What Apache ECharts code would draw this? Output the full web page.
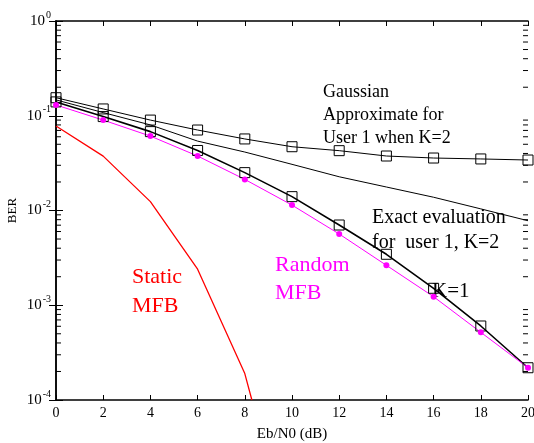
<!DOCTYPE html>
<html>
<head>
<meta charset="utf-8">
<script src="https://cdn.jsdelivr.net/npm/echarts@6/dist/echarts.min.js"></script>
<style>
  html, body { margin: 0; padding: 0; background: #fff; }
  #chart { width: 534px; height: 443px; }
</style>
</head>
<body>
<div id="chart"></div>
<script>
var ebn0 = [0, 2, 4, 6, 8, 10, 12, 14, 16, 18, 20];
var gaussian = [0.155, 0.118, 0.09, 0.0707, 0.0569, 0.0471, 0.0428, 0.0376, 0.0358, 0.035, 0.0341];
var exact = [0.147, 0.108, 0.08, 0.054, 0.0414, 0.0307, 0.0227, 0.0177, 0.0138, 0.0104, 0.0078];
var k1 = [0.14, 0.098, 0.068, 0.043, 0.0251, 0.014, 0.00703, 0.00345, 0.00151, 0.000604, 0.000219];
var randomMfb = [0.13, 0.09, 0.061, 0.0376, 0.0213, 0.0114, 0.00565, 0.00264, 0.00123, 0.000518, 0.000219];
var staticX = [0, 2, 4, 6, 8, 8.3];
var staticMfb = [0.078, 0.0375, 0.0124, 0.0024, 0.00019, 0.0001];

// minor ticks of the log axis
var minorTicks = [];
[-4, -3, -2, -1].forEach(function (d) {
    for (var m = 2; m <= 9; m++) minorTicks.push(m * Math.pow(10, d));
});

var FONT = 'Liberation Serif';

function pairs(xs, ys) {
    return xs.map(function (x, i) { return [x, ys[i]]; });
}

function drawChart() {
    var myChart = echarts.init(document.getElementById('chart'));

    var option = {
        animation: false,
        textStyle: { fontFamily: FONT },
        grid: { left: 56, right: 6, top: 21, bottom: 43, outerBoundsMode: 'none', containLabel: false },
        xAxis: [{
            type: 'value', min: 0, max: 20, interval: 2,
            name: 'Eb/N0 (dB)', nameLocation: 'middle', nameGap: 27, nameMoveOverlap: false,
            nameTextStyle: { fontFamily: FONT, fontSize: 15, color: '#000' },
            axisLine: { lineStyle: { color: '#000', width: 1.5 } },
            axisTick: { inside: true, length: 5, lineStyle: { color: '#000' } },
            axisLabel: { fontFamily: FONT, fontSize: 14, color: '#000', margin: 6 },
            splitLine: { show: false }
        }, {
            type: 'value', min: 0, max: 20, interval: 2, position: 'top',
            axisLine: { lineStyle: { color: '#000', width: 1.5 } },
            axisTick: { inside: true, length: 5, lineStyle: { color: '#000' } },
            axisLabel: { show: false },
            splitLine: { show: false }
        }],
        yAxis: [{
            type: 'log', logBase: 10, min: 0.0001, max: 1,
            name: 'BER', nameLocation: 'middle', nameGap: 37, nameMoveOverlap: false,
            nameTextStyle: { fontFamily: FONT, fontSize: 13, color: '#000' },
            axisLine: { lineStyle: { color: '#000', width: 1.5 } },
            axisTick: { inside: true, length: 7, lineStyle: { color: '#000' } },
            axisLabel: {
                margin: 5,
                formatter: function (v) {
                    return '{b|10}{s|' + Math.round(Math.log10(v)) + '}';
                },
                rich: {
                    b: { fontFamily: FONT, fontSize: 15, color: '#000' },
                    s: { fontFamily: FONT, fontSize: 10, color: '#000', padding: [0, 0, 12, 1] }
                }
            },
            splitLine: { show: false }
        }, {
            type: 'log', logBase: 10, min: 0.0001, max: 1, position: 'right',
            axisLine: { lineStyle: { color: '#000', width: 1.5 } },
            axisTick: { inside: true, length: 7, lineStyle: { color: '#000' } },
            axisLabel: { show: false },
            splitLine: { show: false }
        }],
        graphic: [
            { type: 'text', left: 323, top: 81, style: { text: 'Gaussian\nApproximate for\nUser 1 when K=2', font: '18px "Liberation Serif"', lineHeight: 23, fill: '#000' } },
            { type: 'text', left: 372, top: 205, style: { text: 'Exact evaluation\nfor  user 1, K=2', font: '20px "Liberation Serif"', lineHeight: 25, fill: '#000' } },
            { type: 'text', left: 432, top: 281, style: { text: 'K=1', font: '21px "Liberation Serif"', fill: '#000' } },
            { type: 'text', left: 275, top: 251, style: { text: 'Random\nMFB', font: '22px "Liberation Serif"', lineHeight: 28, fill: '#ff00ff' } },
            { type: 'text', left: 132, top: 263, style: { text: 'Static\nMFB', font: '22px "Liberation Serif"', lineHeight: 29, fill: '#ff0000' } }
        ],
        series: [
            {
                name: 'Gaussian', type: 'line', data: pairs(ebn0, gaussian),
                symbol: 'rect', symbolSize: 10,
                lineStyle: { color: '#000', width: 1 },
                itemStyle: { color: 'transparent', borderColor: '#000', borderWidth: 1 }
            },
            {
                name: 'Exact', type: 'line', data: pairs(ebn0, exact),
                showSymbol: false, symbol: 'none',
                lineStyle: { color: '#000', width: 1 }
            },
            {
                name: 'K=1', type: 'line', data: pairs(ebn0, k1),
                symbol: 'rect', symbolSize: 10,
                lineStyle: { color: '#000', width: 1.6 },
                itemStyle: { color: 'transparent', borderColor: '#000', borderWidth: 1 }
            },
            {
                name: 'Random MFB', type: 'line', data: pairs(ebn0, randomMfb),
                symbol: 'circle', symbolSize: 6,
                lineStyle: { color: '#ff00ff', width: 1 },
                itemStyle: { color: '#ff00ff' }
            },
            {
                name: 'Static MFB', type: 'line', data: pairs(staticX, staticMfb),
                symbol: 'none',
                lineStyle: { color: '#ff0000', width: 1.3 }
            },
            {
                name: 'minor', type: 'custom', silent: true, z: 10, clip: false,
                data: minorTicks.map(function (v) { return [0, v]; }),
                renderItem: function (params, api) {
                    var p0 = api.coord([0, api.value(1)]);
                    var p1 = api.coord([20, api.value(1)]);
                    var st = { stroke: '#000', lineWidth: 1 };
                    return {
                        type: 'group',
                        children: [
                            { type: 'line', shape: { x1: p0[0], y1: p0[1], x2: p0[0] + 5, y2: p0[1] }, style: st },
                            { type: 'line', shape: { x1: p1[0], y1: p1[1], x2: p1[0] - 5, y2: p1[1] }, style: st }
                        ]
                    };
                }
            }
        ]
    };

    myChart.setOption(option, true);
}

drawChart();
</script>
</body>
</html>
